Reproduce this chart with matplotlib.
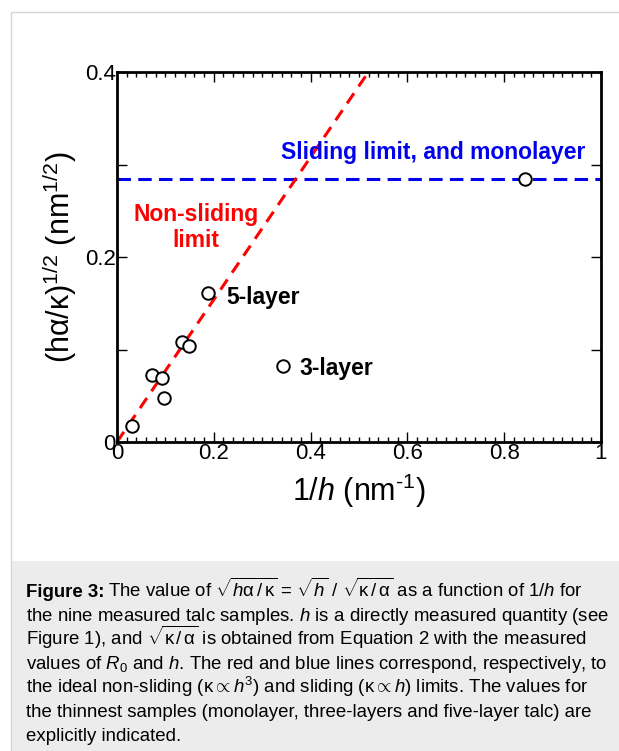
import matplotlib
matplotlib.use("Agg")
import matplotlib.pyplot as plt
from matplotlib.patches import Rectangle

plt.rcParams['font.family'] = ['Liberation Sans', 'DejaVu Sans']
plt.rcParams['mathtext.fontset'] = 'custom'
plt.rcParams['mathtext.rm'] = 'Liberation Sans'
plt.rcParams['mathtext.it'] = 'Liberation Sans:italic'
plt.rcParams['mathtext.bf'] = 'Liberation Sans:bold'

# data
inv_h = [0.032, 0.073, 0.094, 0.097, 0.135, 0.148, 0.189, 0.343, 0.843]
sqrt_ratio = [0.017, 0.072, 0.069, 0.048, 0.108, 0.104, 0.161, 0.082, 0.284]
red_slope = 0.77          # non-sliding limit, through the origin
blue_level = 0.284        # sliding limit

x_ticks = [0, 0.2, 0.4, 0.6, 0.8, 1]
x_labels = ['0', '0.2', '0.4', '0.6', '0.8', '1']
y_ticks = [0, 0.1, 0.2, 0.3, 0.4]
y_labels = ['0', '', '0.2', '', '0.4']

caption_lines = [
    r"The value of $\sqrt{h\mathrm{α\,/\,κ}}$ = $\sqrt{h}$ / $\sqrt{\mathrm{κ\,/\,α}}$ as a function of 1/$h$ for",
    r"the nine measured talc samples. $h$ is a directly measured quantity (see",
    r"Figure 1), and $\sqrt{\mathrm{κ\,/\,α}}$ is obtained from Equation 2 with the measured",
    r"values of $R_0$ and $h$. The red and blue lines correspond, respectively, to",
    r"the ideal non-sliding ($\mathrm{κ}\propto h^3$) and sliding ($\mathrm{κ}\propto h$) limits. The values for",
    r"the thinnest samples (monolayer, three-layers and five-layer talc) are",
    r"explicitly indicated.",
]

W, H = 619, 751
fig = plt.figure(figsize=(W / 100, H / 100), dpi=100)

# panel frame and grey caption box
fig.patches.append(Rectangle((11 / W, -0.1), 1.2, (H - 12) / H + 0.1,
                             transform=fig.transFigure, facecolor='white',
                             edgecolor='#d4d4d4', lw=1, zorder=-2))
fig.patches.append(Rectangle((11.5 / W, 0), 1.0, (H - 561) / H,
                             transform=fig.transFigure, facecolor='#ececec',
                             edgecolor='none', zorder=-1))

ax = fig.add_axes([117 / W, 1 - 442 / H, (601 - 117) / W, (442 - 72) / H])
ax.set_zorder(2)

ax.axhline(blue_level, color='#0000ee', lw=2.2, dashes=(4.4, 2.4), zorder=2)
ax.plot([0, 1], [0, red_slope], color='#ff0000', lw=2.2, dashes=(4, 2.7), zorder=2)
ax.plot(inv_h, sqrt_ratio, 'o', ms=9, mfc='white', mec='black', mew=1.4,
        zorder=3, clip_on=False)

ax.text(0.654, 0.313, 'Sliding limit, and monolayer', color='#0000ee',
        fontsize=16.5, fontweight='bold', ha='center', va='center')
ax.text(0.163, 0.232, 'Non-sliding\nlimit', color='#ff0000', fontsize=16.5,
        fontweight='bold', ha='center', va='center', linespacing=1.2)
ax.text(0.225, 0.156, '5-layer', fontsize=16.5, fontweight='bold', va='center')
ax.text(0.376, 0.080, '3-layer', fontsize=16.5, fontweight='bold', va='center')

ax.set_xlim(0, 1)
ax.set_ylim(0, 0.4)
ax.set_xticks(x_ticks)
ax.set_xticklabels(x_labels)
ax.set_xticks([i * 0.02 for i in range(51)], minor=True)
ax.set_yticks(y_ticks)
ax.set_yticklabels(y_labels)
ax.tick_params(which='both', direction='in', top=True, right=True,
               labelsize=16, width=1)
ax.tick_params(which='major', length=7, pad=1)
ax.tick_params(which='minor', length=3.5)
for s in ax.spines.values():
    s.set_linewidth(2)

ax.set_xlabel(r'1/$h$ (nm$^{\mathrm{‐}1}$)', fontsize=22, labelpad=5)
ax.set_ylabel(r'(hα/κ)$^{1/2}$ (nm$^{1/2}$)', fontsize=22, labelpad=4)

# caption
fig.canvas.draw()
r = fig.canvas.get_renderer()
y0 = 1 - 597 / H
dy = 24 / H
fs = 13.4
t = fig.text(26 / W, y0, 'Figure 3:', fontsize=fs, fontweight='bold',
             va='baseline')
bb = t.get_window_extent(r)
fig.text((bb.x1 + 4) / W, y0, caption_lines[0], fontsize=fs, va='baseline')
for i, line in enumerate(caption_lines[1:], start=1):
    fig.text(26 / W, y0 - i * dy, line, fontsize=fs, va='baseline')

fig.savefig('out.png', dpi=100)
